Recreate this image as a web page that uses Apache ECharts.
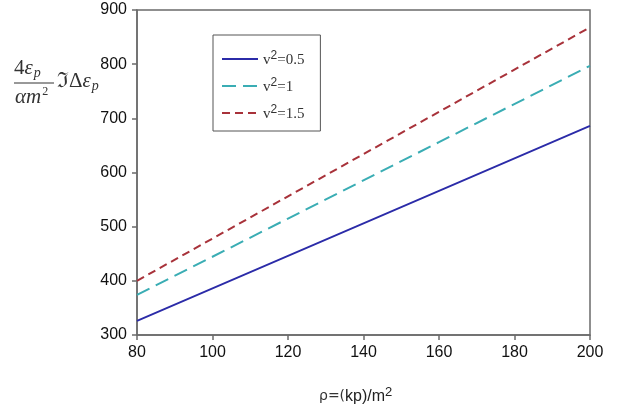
<!DOCTYPE html>
<html>
<head>
<meta charset="utf-8">
<script src="https://cdn.jsdelivr.net/npm/echarts@6/dist/echarts.min.js"></script>
<style>html,body{margin:0;padding:0;background:#fff}#c{width:622px;height:414px}</style>
</head>
<body>
<div id="c"></div>
<script>
const xValues = [80, 120, 160, 200];
const seriesNames = ['v2=0.5', 'v2=1', 'v2=1.5'];
const legendSuffix = ['=0.5', '=1', '=1.5'];
const blueValues = [326, 446, 566, 686];
const cyanValues = [374, 515, 656, 797];
const redValues = [400, 556, 712, 868];
const xTicks = [80, 100, 120, 140, 160, 180, 200];
const yTicks = [300, 400, 500, 600, 700, 800, 900];

const chart = echarts.init(document.getElementById('c'));
const pair = (vals) => xValues.map((x, i) => [x, vals[i]]);
const serif = 'Liberation Serif';
const axisCol = '#6b6b6b';

chart.setOption({
  animation: false,
  backgroundColor: '#fff',
  grid: { left: 137, right: 32, top: 10, bottom: 79, show: true, borderColor: axisCol, borderWidth: 1.5 },
  xAxis: {
    type: 'value', min: xTicks[0], max: xTicks[xTicks.length - 1], interval: 20,
    axisLine: { lineStyle: { color: axisCol, width: 1.5 } },
    axisTick: { show: true, inside: false, length: 5, lineStyle: { color: axisCol, width: 1.5 } },
    splitLine: { show: false },
    axisLabel: { color: '#111', fontFamily: 'Liberation Sans', fontSize: 16, margin: 10 }
  },
  yAxis: {
    type: 'value', min: yTicks[0], max: yTicks[yTicks.length - 1], interval: 100,
    axisLine: { show: true, lineStyle: { color: axisCol, width: 1.5 } },
    axisTick: { show: true, inside: false, length: 5, lineStyle: { color: axisCol, width: 1.5 } },
    splitLine: { show: false },
    axisLabel: { color: '#111', fontFamily: 'Liberation Sans', fontSize: 16, margin: 10 }
  },
  legend: {
    orient: 'vertical', left: 213, top: 35, width: 107,
    padding: [15, 16, 9, 8],
    borderColor: '#555', borderWidth: 1, backgroundColor: '#fff',
    itemWidth: 36, itemHeight: 14, itemGap: 9,
    itemStyle: { opacity: 0 },
    data: seriesNames,
    formatter: (name) => '{v|v}{s|2}{v|' + legendSuffix[seriesNames.indexOf(name)] + '}',
    textStyle: {
      color: '#333',
      rich: {
        v: { fontFamily: serif, fontSize: 15, color: '#333', verticalAlign: 'bottom' },
        s: { fontFamily: 'Liberation Sans', fontSize: 12, color: '#333', verticalAlign: 'top', padding: [0, 0, 6, 0] }
      }
    }
  },
  series: [
    { name: seriesNames[0], type: 'line', data: pair(blueValues), symbol: 'none',
      lineStyle: { color: '#2b2ba8', width: 1.8, type: 'solid' }, itemStyle: { color: '#2b2ba8' } },
    { name: seriesNames[1], type: 'line', data: pair(cyanValues), symbol: 'none',
      lineStyle: { color: '#3aadb4', width: 2, type: [14, 7] }, itemStyle: { color: '#3aadb4' } },
    { name: seriesNames[2], type: 'line', data: pair(redValues), symbol: 'none',
      lineStyle: { color: '#a8323a', width: 2, type: [8, 5] }, itemStyle: { color: '#a8323a' } }
  ],
  graphic: [
    { type: 'text', left: 14, top: 58, style: {
        text: '{n|4}{e|ε}{p|p}', rich: {
          n: { fontFamily: serif, fontSize: 21, fill: '#333' },
          e: { fontFamily: serif, fontSize: 21, fontStyle: 'italic', fill: '#333' },
          p: { fontFamily: serif, fontSize: 14, fontStyle: 'italic', fill: '#333', padding: [10, 0, 0, 1] }
        } } },
    { type: 'line', shape: { x1: 14, y1: 83, x2: 54, y2: 83 }, style: { stroke: '#333', lineWidth: 1 } },
    { type: 'text', left: 15, top: 86, style: {
        text: '{e|αm}{s|2}', rich: {
          e: { fontFamily: serif, fontSize: 21, fontStyle: 'italic', fill: '#333' },
          s: { fontFamily: serif, fontSize: 12, fill: '#333', padding: [0, 0, 10, 1] }
        } } },
    { type: 'text', left: 57, top: 71, style: {
        text: '{n|ℑΔ}{e|ε}{p|p}', rich: {
          n: { fontFamily: serif, fontSize: 21, fill: '#333' },
          e: { fontFamily: serif, fontSize: 21, fontStyle: 'italic', fill: '#333' },
          p: { fontFamily: serif, fontSize: 14, fontStyle: 'italic', fill: '#333', padding: [10, 0, 0, 1] }
        } } },
    { type: 'text', left: 319, top: 386, style: {
        text: '{a|ρ=(}{b|kp)/m}{s|2}', rich: {
          a: { fontFamily: 'DejaVu Sans', fontSize: 14, fill: '#333' },
          b: { fontFamily: 'Liberation Sans', fontSize: 16, fill: '#222' },
          s: { fontFamily: 'Liberation Sans', fontSize: 13, fill: '#222', padding: [0, 0, 8, 0] }
        } } }
  ]
});
</script>
</body>
</html>
